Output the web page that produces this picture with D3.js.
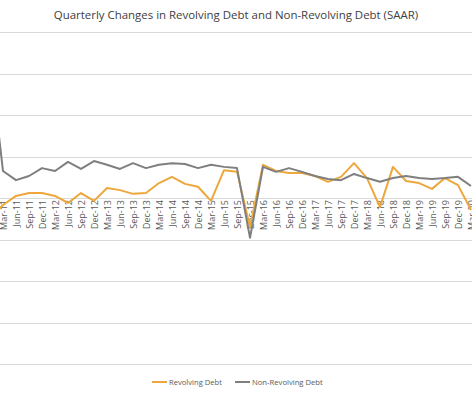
<!DOCTYPE html>
<html>
<head>
<meta charset="utf-8">
<script src="https://cdn.jsdelivr.net/npm/d3@7"></script>
<style>
    body { margin: 0; background: white; }
    text { font-family: "Open Sans", "Liberation Sans", sans-serif; }
</style>
</head>
<body>
<svg id="chart" width="472" height="394"></svg>
<script>
    // quarters, Dec-10 sits just off the left edge of the crop
    var quarters = ["Dec-10",
        "Mar-11","Jun-11","Sep-11","Dec-11","Mar-12","Jun-12","Sep-12","Dec-12",
        "Mar-13","Jun-13","Sep-13","Dec-13","Mar-14","Jun-14","Sep-14","Dec-14",
        "Mar-15","Jun-15","Sep-15","Dec-15","Mar-16","Jun-16","Sep-16","Dec-16",
        "Mar-17","Jun-17","Sep-17","Dec-17","Mar-18","Jun-18","Sep-18","Dec-18",
        "Mar-19","Jun-19","Sep-19","Dec-19","Mar-20"]

    var revolving = [-4.8,
        -1.7, 0.5, 1.2, 1.2, 0.5, -1.2, 1.2, -0.7,
        2.4, 1.9, 1.0, 1.2, 3.6, 5.1, 3.4, 2.7,
        -0.7, 6.7, 6.3, -7.0, 8.0, 6.5, 6.0, 6.0,
        5.3, 3.9, 5.1, 8.4, 4.8, -2.2, 7.5, 4.1,
        3.6, 2.2, 4.8, 3.1, -2.9]

    var nonRevolving = [33.7,
        6.5, 4.3, 5.3, 7.2, 6.5, 8.7, 7.0, 8.9,
        8.0, 7.0, 8.4, 7.2, 8.0, 8.4, 8.2, 7.2,
        8.0, 7.5, 7.2, -9.6, 7.5, 6.3, 7.2, 6.3,
        5.3, 4.6, 4.3, 5.8, 4.8, 3.9, 4.8, 5.3,
        4.8, 4.6, 4.8, 5.1, 2.9]

    var yTicks = [-40, -30, -20, -10, 0, 10, 20, 30, 40]
    var seriesNames = ["Revolving Debt", "Non-Revolving Debt"]
    var seriesColours = ["#EDA73C", "#7F7F7F"]

    var svg = d3.select("#chart")

    var x = d3.scalePoint().domain(quarters).range([-10, 471])
    var y = d3.scaleLinear().domain([-40, 40]).range([364, 32])

    // gridlines
    svg.append("g").selectAll("line")
        .data(yTicks)
        .enter()
        .append("line")
        .attr("x1", 0).attr("x2", 472)
        .attr("y1", d => Math.round(y(d)) + 0.5)
        .attr("y2", d => Math.round(y(d)) + 0.5)
        .style("stroke", "#D9D9D9")
        .style("stroke-width", 1)

    // category labels, rotated, hanging under the zero line
    // (Dec-10 is off the crop, so no label for it)
    var xAxis = d3.axisBottom(x).tickSize(0).tickPadding(0)
        .tickValues(quarters.slice(1))
    var axisG = svg.append("g")
        .attr("transform", "translate(0," + (y(0) + 2) + ")")
        .call(xAxis)
    axisG.select(".domain").remove()
    axisG.selectAll("text")
        .attr("transform", "rotate(-90)")
        .attr("text-anchor", "end")
        .attr("x", 0)
        .attr("y", 0)
        .attr("dy", "0.35em")
        .style("font-size", "9px")
        .style("fill", "#595959")

    var line = d3.line()
        .x((d, i) => x(quarters[i]))
        .y(d => y(d))

    // orange first, grey on top
    svg.append("path")
        .datum(revolving)
        .attr("d", line)
        .style("fill", "none")
        .style("stroke", seriesColours[0])
        .style("stroke-width", 2)
        .style("stroke-linejoin", "round")
    svg.append("path")
        .datum(nonRevolving)
        .attr("d", line)
        .style("fill", "none")
        .style("stroke", seriesColours[1])
        .style("stroke-width", 2)
        .style("stroke-linejoin", "round")

    // title
    var title = svg.append("text")
        .attr("x", 236)
        .attr("y", 19)
        .attr("text-anchor", "middle")
        .style("font-size", "12px")
        .style("fill", "#404040")
        .text("Quarterly Changes in Revolving Debt and Non-Revolving Debt (SAAR)")
    var tw = title.node().getComputedTextLength()
    title.style("font-size", (12 * 365 / tw) + "px")

    // legend
    var legendX = [152, 235]
    var legendW = [53, 71]
    var legend = svg.append("g")
    seriesNames.forEach(function(name, i) {
        legend.append("line")
            .attr("x1", legendX[i]).attr("x2", legendX[i] + 15)
            .attr("y1", 382).attr("y2", 382)
            .style("stroke", seriesColours[i])
            .style("stroke-width", 2)
        var t = legend.append("text")
            .attr("x", legendX[i] + 17)
            .attr("y", 385)
            .style("font-size", "8.5px")
            .style("fill", "#595959")
            .text(name)
        var w = t.node().getComputedTextLength()
        t.style("font-size", (8.5 * legendW[i] / w) + "px")
    })
</script>
</body>
</html>
